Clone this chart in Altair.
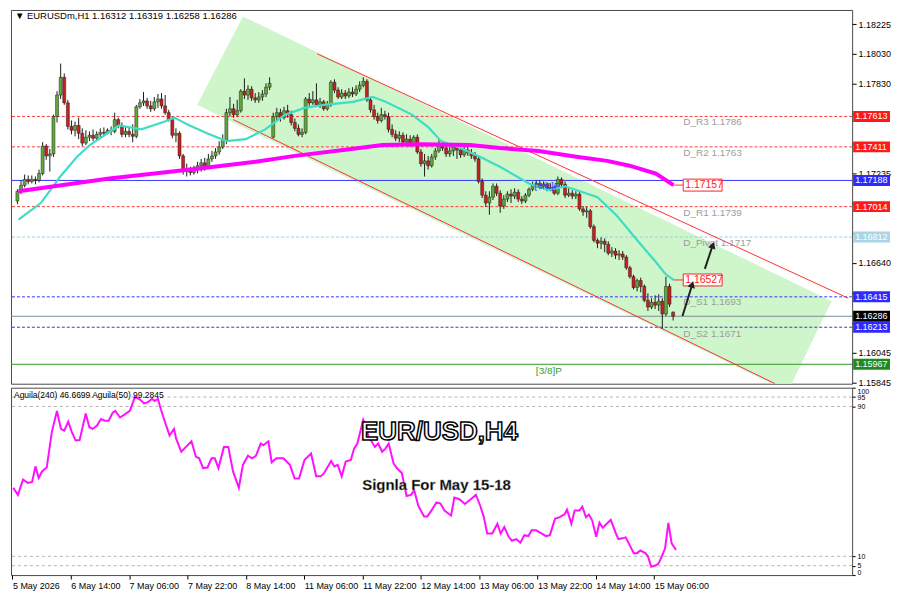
import altair as alt
import pandas as pd

# ---------------- data (prices in points, 1 point = 0.00001) ----------------
opens = [117051,117116,117155,117195,117181,117195,117188,117234,117416,117351,
117364,117612,117755,117873,117703,117547,117521,117553,117501,117436,
117475,117488,117468,117494,117507,117501,117521,117514,117592,117553,
117494,117514,117494,117481,117677,117703,117716,117683,117664,117710,
117729,117683,117638,117592,117488,117501,117351,117247,117260,117240,
117266,117286,117305,117279,117331,117351,117377,117410,117455,117638,
117664,117625,117651,117781,117755,117794,117736,117723,117742,117762,
117807,117475,117612,117638,117605,117651,117625,117573,117534,117494,
117507,117729,117703,117723,117690,117710,117664,117690,117840,117788,
117742,117768,117749,117775,117762,117794,117820,117846,117723,117657,
117612,117586,117625,117612,117527,117494,117468,117488,117442,117462,
117429,117475,117377,117299,117318,117286,117344,117384,117423,117403,
117364,117384,117410,117390,117358,117390,117371,117351,117331,117181,
117090,117038,117077,117149,117103,117018,117064,117097,117084,117110,
117064,117051,117090,117129,117155,117168,117149,117162,117136,117142,
117103,117195,117162,117090,117103,117084,117097,116999,116979,116986,
116881,116790,116771,116784,116764,116705,116719,116692,116699,116679,
116608,116549,116477,116523,116484,116392,116347,116379,116360,116386,
116301,116484,116312]
closes = [117116,117155,117195,117181,117195,117188,117234,117416,117351,117364,
117612,117755,117873,117703,117547,117521,117553,117501,117436,117475,
117488,117468,117494,117507,117501,117521,117514,117592,117553,117494,
117514,117494,117481,117677,117703,117716,117683,117664,117710,117729,
117683,117638,117592,117488,117501,117351,117247,117260,117240,117266,
117286,117305,117279,117331,117351,117377,117410,117455,117638,117664,
117625,117651,117781,117755,117794,117736,117723,117742,117762,117807,
117833,117612,117638,117605,117651,117625,117573,117534,117494,117507,
117729,117703,117723,117690,117710,117664,117690,117840,117788,117742,
117768,117749,117775,117762,117794,117820,117846,117723,117657,117612,
117586,117625,117612,117527,117494,117468,117488,117442,117462,117429,
117475,117377,117299,117318,117286,117344,117384,117423,117403,117364,
117384,117410,117390,117358,117390,117371,117351,117331,117181,117090,
117038,117077,117149,117103,117018,117064,117097,117084,117110,117064,
117051,117090,117129,117155,117168,117149,117162,117136,117142,117103,
117195,117162,117090,117103,117084,117097,116999,116979,116986,116881,
116790,116771,116784,116764,116705,116719,116692,116699,116679,116608,
116549,116477,116523,116484,116392,116347,116379,116360,116386,116301,
116484,116366,116286]
highs = [117129,117188,117227,117221,117221,117214,117260,117442,117429,117397,
117625,117781,117964,117899,117723,117586,117579,117605,117534,117521,
117514,117527,117514,117534,117540,117534,117547,117638,117605,117573,
117547,117540,117560,117690,117729,117775,117736,117716,117742,117762,
117768,117755,117657,117612,117534,117514,117364,117299,117279,117286,
117312,117331,117338,117364,117384,117403,117449,117494,117664,117742,
117697,117723,117794,117866,117820,117814,117768,117775,117788,117833,
117873,117638,117670,117664,117677,117690,117651,117599,117560,117534,
117742,117768,117781,117833,117736,117723,117716,117853,117860,117807,
117794,117788,117801,117807,117820,117846,117873,117860,117736,117690,
117638,117670,117651,117638,117560,117521,117514,117507,117494,117488,
117488,117494,117397,117364,117351,117364,117403,117462,117442,117429,
117416,117436,117429,117410,117416,117410,117397,117377,117351,117201,
117116,117116,117168,117168,117123,117090,117116,117129,117136,117129,
117084,117103,117142,117181,117188,117188,117181,117175,117168,117155,
117214,117208,117181,117136,117123,117116,117110,117018,117012,116999,
116895,116803,116810,116803,116784,116745,116738,116725,116719,116692,
116621,116562,116536,116542,116497,116438,116406,116425,116432,116406,
116549,116503,116319]
lows = [117031,117097,117142,117162,117168,117162,117175,117221,117325,117247,
117344,117573,117729,117690,117527,117494,117481,117462,117416,117423,
117449,117449,117455,117475,117481,117494,117488,117501,117534,117475,
117475,117475,117442,117468,117664,117683,117664,117644,117651,117670,
117664,117625,117579,117468,117442,117331,117227,117214,117221,117227,
117234,117247,117253,117266,117312,117331,117358,117397,117429,117612,
117605,117612,117638,117729,117723,117716,117703,117703,117716,117742,
117788,117468,117586,117579,117592,117605,117553,117514,117481,117475,
117494,117683,117690,117677,117670,117651,117651,117677,117768,117729,
117729,117729,117736,117742,117749,117775,117807,117710,117638,117592,
117566,117573,117592,117507,117475,117449,117442,117423,117416,117410,
117416,117364,117279,117214,117260,117273,117325,117371,117384,117344,
117344,117351,117331,117338,117344,117351,117331,117312,117168,117071,
117012,116960,117058,117084,116973,116999,117045,117038,117064,117045,
117031,117038,117077,117116,117142,117129,117129,117116,117116,117090,
117090,117142,117071,117077,117064,117064,116986,116953,116940,116868,
116777,116738,116732,116712,116692,116679,116666,116660,116660,116595,
116536,116464,116451,116445,116379,116321,116334,116334,116321,116203,
116288,116347,116258]

time_label_bars = [0, 16, 32, 48, 64, 80, 96, 112, 128, 144, 160, 176]
time_labels = ["5 May 2026", "6 May 14:00", "7 May 06:00", "7 May 22:00", "8 May 14:00",
               "11 May 06:00", "11 May 22:00", "12 May 14:00", "13 May 06:00",
               "13 May 22:00", "14 May 14:00", "15 May 06:00"]

ma_fast_bar = [0.3,6.5,11.9,16.5,20.1,28.2,34.4,40.9,43.6,47.2,52.6,58.0,63.4,68.8,74.3,79.7,85.1,
               93.2,98.6,102.2,109.5,114.1,117.6,122.2,128.5,133.9,142.0,147.4,152.0,161.0,166.4,
               171.8,177.2,179.8,182.1]
ma_fast_val = [116927,117038,117214,117344,117423,117553,117527,117579,117605,117560,117501,117449,
               117462,117527,117625,117670,117690,117710,117742,117710,117625,117540,117449,117410,
               117344,117279,117168,117123,117149,117077,116953,116797,116646,116568,116527]

ma_slow_bar = [0.3,25.5,49.9,66.1,77.0,90.5,101.3,112.2,125.7,133.9,144.7,155.6,163.7,169.9,177.2,182.1]
ma_slow_val = [117116,117201,117266,117312,117351,117390,117423,117429,117423,117403,117384,117344,
               117318,117286,117234,117157]

ind_bar = [0.2,1.5,2.9,4.2,5.4,6.3,7.2,8.1,9.4,10.8,12.2,13.3,14.2,15.3,16.3,17.3,18.4,20.1,21.1,22.0,
           23.2,24.3,25.3,26.4,27.5,28.2,29.5,30.9,32.2,33.6,35.0,36.1,37.2,38.3,39.0,39.9,40.7,41.7,43.1,44.3,
           44.9,46.3,47.6,49.1,50.3,51.2,52.3,53.5,54.6,55.5,56.5,58.0,59.2,60.5,62.1,63.2,64.6,65.7,66.8,68.1,
           68.8,70.2,71.1,72.4,74.3,76.1,77.4,78.6,80.1,81.9,83.3,84.6,85.5,87.4,88.3,89.2,90.3,91.4,92.8,93.7,
           94.6,96.2,97.0,97.7,98.6,99.4,100.3,101.4,102.3,103.2,104.5,105.4,106.8,108.1,109.3,110.2,111.3,
           112.9,113.8,114.9,116.3,117.4,118.5,119.9,
           120.3,121.2,122.6,124.1,125.7,127.1,128.3,129.3,130.2,131.6,133.0,133.9,134.9,136.1,137.0,138.2,
           139.3,140.4,141.5,142.4,143.6,145.1,146.3,147.4,148.8,150.1,151.5,152.1,153.3,154.2,155.5,156.3,
           157.3,158.1,159.0,160.1,161.0,161.9,163.0,164.1,165.5,166.2,167.3,168.2,169.5,170.4,171.3,172.2,
           173.6,174.3,175.2,176.3,177.2,178.1,179.0,179.9,180.8,182.0]
ind_val = [46.6,42.8,51.0,49.2,49.7,58.0,51.8,55.3,57.4,76.3,87.6,78.0,77.1,81.9,76.3,71.9,71.9,86.2,78.9,78.0,
           79.8,83.3,82.4,82.4,86.7,87.6,84.1,85.9,87.6,95.1,93.7,91.6,92.3,94.1,92.9,94.1,88.5,82.4,74.5,78.0,
           72.8,65.8,68.4,71.4,63.2,62.3,57.1,57.4,62.3,62.3,57.1,68.4,68.4,55.3,46.6,58.8,63.7,62.3,63.7,70.2,
           69.3,71.4,60.2,62.3,62.3,58.8,51.5,51.5,61.4,64.9,52.7,52.7,54.5,60.9,58.0,58.8,52.7,60.6,61.4,67.5,
           70.2,82.9,79.4,73.7,71.0,68.4,70.2,65.8,67.5,70.2,59.7,57.1,54.5,42.2,42.8,45.2,37.0,31.3,31.3,34.4,
           38.8,38.2,34.4,32.3,
           31.8,41.4,40.5,37.9,40.5,42.8,37.0,30.9,22.2,22.2,27.4,22.2,25.7,20.4,18.3,19.2,17.3,21.3,20.8,23.9,
           23.9,22.2,20.8,21.3,30.0,30.9,32.6,34.9,27.4,34.4,34.4,36.5,30.9,32.3,29.2,20.4,27.9,25.3,27.4,29.5,
           22.2,19.2,19.6,20.1,15.2,11.7,11.7,13.1,11.7,10.0,4.4,5.1,6.1,10.0,14.3,27.8,16.9,13.4]
ind_levels = [95, 90, 10, 5]
ind_ticks = [100, 95, 90, 10, 5, 0]

level_price = [1.17613, 1.17411, 1.17188, 1.17014, 1.16812, 1.16415, 1.16286, 1.16213, 1.15967]
level_line_color = ["#ff3b3b", "#ff3b3b", "#3434ff", "#ff3b3b", "#8fd3ea", "#3434ff", "#7d8c9c", "#3434ff", "#2e9a22"]
level_dashed = [True, True, False, True, True, True, False, True, False]
level_box_bg = ["#ff1a1a", "#ff1a1a", "#2b2bff", "#ff1a1a", "#a9d6e6", "#2b2bff", "#000000", "#2b2bff", "#1f8a1f"]

price_ticks = [1.18225, 1.1803, 1.1783, 1.1763, 1.1743, 1.17235, 1.17035, 1.1684,
               1.1664, 1.1644, 1.16245, 1.16045, 1.15845]
hidden_tick_labels = ["1.17630", "1.17430", "1.17035", "1.16840", "1.16440", "1.16245"]

pivot_text = ["D_R3 1.1786", "D_R2 1.1763", "D_R1 1.1739", "D_Pivot 1.1717", "D_S1 1.1693", "D_S2 1.1671"]
pivot_price = [1.17573, 1.17371, 1.16973, 1.16771, 1.16379, 1.16171]
pivot_bar = 184.8

channel_bar = [83.2, 230.6, 59.9, 210.3]
channel_price = [1.18029, 1.16406, 1.17592, 1.15838]
channel_id = ["upper", "upper", "lower", "lower"]

zone_bar = [49.9, 62.6, 213.8, 226.0]
zone_top = [1.17690, 1.18277, 1.16528, 1.16386]
zone_bottom = [1.17690, 1.17542, 1.15786, 1.16386]

ma_tag_text = ["1.17157", "1.16527"]
ma_tag_price = [1.17157, 1.16527]
ma_tag_from = [182.1, 182.1]
ma_tag_bar = 184.8

arrow_id = ["a1", "a1", "a2", "a2"]
arrow_bar = [184.6, 187.3, 190.8, 193.0]
arrow_price = [1.16288, 1.16497, 1.16601, 1.16758]

# ---------------- frames ----------------
candles = pd.DataFrame({
    "bar": list(range(len(opens))),
    "open": [v / 1e5 for v in opens],
    "close": [v / 1e5 for v in closes],
    "high": [v / 1e5 for v in highs],
    "low": [v / 1e5 for v in lows],
})
candles["col"] = ["#5fa83a" if c >= o else "#c8201e" for o, c in zip(candles["open"], candles["close"])]

fast = pd.DataFrame({"bar": ma_fast_bar, "price": [v / 1e5 for v in ma_fast_val]})
slow = pd.DataFrame({"bar": ma_slow_bar, "price": [v / 1e5 for v in ma_slow_val]})
ind = pd.DataFrame({"bar": ind_bar, "val": ind_val})
levels = pd.DataFrame({"price": level_price, "col": level_line_color, "dashed": level_dashed,
                       "bg": level_box_bg, "label": [f"{p:.5f}" for p in level_price]})
levels_dashed = levels[levels["dashed"]].reset_index(drop=True)
levels_solid = levels[~levels["dashed"]].reset_index(drop=True)
pivots = pd.DataFrame({"text": pivot_text, "price": pivot_price, "bar": [pivot_bar] * len(pivot_text)})
channel = pd.DataFrame({"bar": channel_bar, "price": channel_price, "id": channel_id})
zone = pd.DataFrame({"bar": zone_bar, "top": zone_top, "bottom": zone_bottom})
tags = pd.DataFrame({"text": ma_tag_text, "price": ma_tag_price, "from": ma_tag_from,
                     "bar": [ma_tag_bar] * 2})
arrows = pd.DataFrame({"id": arrow_id, "bar": arrow_bar, "price": arrow_price})
heads = arrows.iloc[[1, 3]].copy().reset_index(drop=True)
heads["angle"] = [18, 18]
ticks_df = pd.DataFrame({"lv": ind_levels})
octant = pd.DataFrame({"text": ["[3/8]P", "[4/8]P"], "bar": [143.9, 143.5],
                       "price": [1.15923, 1.17149], "col": ["#3a9a3a", "#3b3bff"]})

# ---------------- scales ----------------
W = 844
H_MAIN = 375
H_IND = 188
xs = alt.Scale(domain=[-0.4, 230.3], nice=False, zero=False)
ys = alt.Scale(domain=[1.15838, 1.18320], nice=False, zero=False)
hidden_js = "[" + ",".join("'" + t + "'" for t in hidden_tick_labels) + "]"
YAX = alt.Axis(orient="right", values=price_ticks, format=".5f", title=None, labelFontSize=9,
               tickSize=4, labelPadding=2, domain=False, grid=False, labelFlush=True,
               labelExpr="indexof(" + hidden_js + ", datum.label) >= 0 ? '' : datum.label")


def X(f):
    return alt.X(f, type="quantitative", scale=xs, axis=None)


def Y(f):
    return alt.Y(f, type="quantitative", scale=ys, axis=YAX)


zone_l = alt.Chart(zone).mark_area(color="#cff5cb", clip=True, orient="vertical").encode(
    x=X("bar"), y=Y("top"), y2=alt.Y2("bottom"))

lvl_dash_l = alt.Chart(levels_dashed).mark_rule(strokeWidth=1, strokeDash=[3, 2], opacity=1).encode(
    y=Y("price"), stroke=alt.Stroke("col:N", scale=None))
lvl_solid_l = alt.Chart(levels_solid).mark_rule(strokeWidth=1, opacity=1).encode(
    y=Y("price"), stroke=alt.Stroke("col:N", scale=None))

channel_l = alt.Chart(channel).mark_line(color="#ff3030", strokeWidth=1, clip=True).encode(
    x=X("bar"), y=Y("price"), detail="id:N")

wick_l = alt.Chart(candles).mark_rule(color="#1e1e1e", strokeWidth=1).encode(
    x=X("bar"), y=Y("low"), y2=alt.Y2("high"))

body_l = alt.Chart(candles).mark_bar(size=3, stroke="#1e1e1e", strokeWidth=0.5).encode(
    x=X("bar"), y=Y("open"), y2=alt.Y2("close"), fill=alt.Fill("col:N", scale=None))

fast_l = alt.Chart(fast).mark_line(color="#40dcc6", strokeWidth=2.2).encode(x=X("bar"), y=Y("price"))
slow_l = alt.Chart(slow).mark_line(color="#ff00ff", strokeWidth=4).encode(x=X("bar"), y=Y("price"))

lead_l = alt.Chart(tags).mark_rule(color="#ff3030", strokeWidth=1).encode(
    x=X("from"), x2=alt.X2("bar"), y=Y("price"))
tagbox_l = alt.Chart(tags).mark_rect(fill="white", stroke="#ff2020", strokeWidth=1,
                                     x2Offset=39, yOffset=-6, y2Offset=6).encode(
    x=X("bar"), x2=alt.X2("bar"), y=Y("price"), y2=alt.Y2("price"))
tagtext_l = alt.Chart(tags).mark_text(color="#ff2020", fontSize=10.5, align="left", baseline="middle",
                                      dx=2).encode(x=X("bar"), y=Y("price"), text="text:N")

pivot_l = alt.Chart(pivots).mark_text(color="#9c9c9c", fontSize=10, align="left", baseline="middle").encode(
    x=X("bar"), y=Y("price"), text="text:N")
octant_l = alt.Chart(octant).mark_text(fontSize=10, align="left", baseline="middle").encode(
    x=X("bar"), y=Y("price"), text="text:N", fill=alt.Fill("col:N", scale=None))

arrow_l = alt.Chart(arrows).mark_line(color="#222222", strokeWidth=2).encode(
    x=X("bar"), y=Y("price"), detail="id:N")
head_l = alt.Chart(heads).mark_point(shape="triangle-up", filled=True, color="#222222", size=60, opacity=1).encode(
    x=X("bar"), y=Y("price"), angle=alt.Angle("angle:Q", scale=None))

box_l = alt.Chart(levels).mark_rect(yOffset=-5.5, y2Offset=5.5).encode(
    x=alt.value(W + 1), x2=alt.value(W + 38), y=Y("price"), y2=alt.Y2("price"),
    fill=alt.Fill("bg:N", scale=None))
boxtext_l = alt.Chart(levels).mark_text(color="white", fontSize=9, align="left", baseline="middle").encode(
    x=alt.value(W + 3), y=Y("price"), text="label:N")

header_l = alt.Chart().mark_text(align="left", baseline="top", fontSize=9.5, color="black").encode(
    x=alt.value(4), y=alt.value(1), text=alt.value("\u25bc EURUSDm,H1  1.16312 1.16319 1.16258 1.16286"))

main = alt.layer(zone_l, lvl_dash_l, lvl_solid_l, channel_l, wick_l, body_l, fast_l, slow_l, lead_l,
                 tagbox_l, tagtext_l, pivot_l, octant_l, arrow_l, head_l, box_l, boxtext_l,
                 header_l).properties(width=W, height=H_MAIN)

# ---------------- indicator panel ----------------
iys = alt.Scale(domain=[0, 100], nice=False, zero=False)
IYAX = alt.Axis(orient="right", values=ind_ticks, title=None, labelFontSize=7, tickSize=3,
                labelPadding=2, grid=False, domain=False, labelOverlap=False, labelFlush=True)
label_js = "[" + ",".join("'" + t + "'" for t in time_labels) + "]"

ind_rules = alt.Chart(ticks_df).mark_rule(color="#b4b4b4", strokeDash=[3, 3], strokeWidth=1).encode(
    y=alt.Y("lv:Q", scale=iys, axis=IYAX))
ind_line = alt.Chart(ind).mark_line(color="#ff10ff", strokeWidth=2).encode(
    x=alt.X("bar:Q", scale=xs,
            axis=alt.Axis(values=time_label_bars, labelExpr=label_js + "[round(datum.value/16)]",
                          labelAlign="left", labelFontSize=9, tickSize=4, labelPadding=2,
                          title=None, grid=False, domain=False, labelOverlap=False, labelFlush=False)),
    y=alt.Y("val:Q", scale=iys, axis=IYAX))

aguila_l = alt.Chart().mark_text(align="left", baseline="top", fontSize=8.5, color="black").encode(
    x=alt.value(3), y=alt.value(3), text=alt.value("Aguila(240) 46.6699  Aguila(50) 99.2845"))
title_main = alt.Chart().mark_text(fontSize=26, fontWeight="bold", color="white", stroke="black",
                                   strokeWidth=1.5).encode(
    x=alt.value(430), y=alt.value(44), text=alt.value("EUR/USD,H4"))
sub_main = alt.Chart().mark_text(fontSize=15, fontWeight="bold", color="black", stroke="#9a9a9a",
                                 strokeWidth=0.4).encode(
    x=alt.value(427), y=alt.value(98), text=alt.value("Signla For May 15-18"))

lower = alt.layer(ind_rules, ind_line, aguila_l, title_main, sub_main).properties(
    width=W, height=H_IND)

chart = alt.vconcat(main, lower, spacing=4, bounds="flush").properties(
    padding=0, background="white"
).configure_view(
    stroke="#4a4a4a", strokeWidth=1
).configure_axis(
    labelFont="Liberation Sans", labelColor="#000000", tickColor="#000000"
).configure_text(font="Liberation Sans")

chart.save("out.html", embed_options={"renderer": "svg", "actions": False})
